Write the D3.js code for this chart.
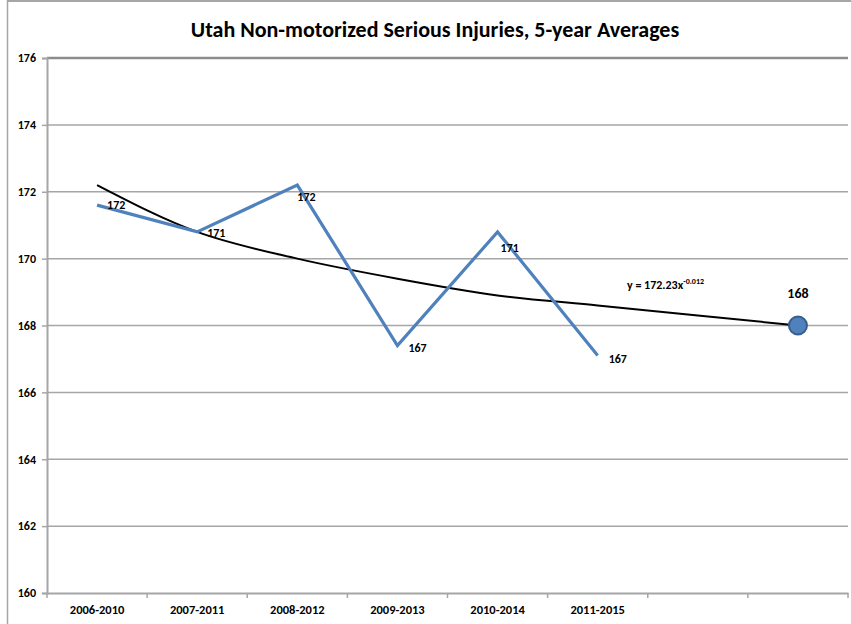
<!DOCTYPE html>
<html>
<head>
<meta charset="utf-8">
<script src="https://cdn.jsdelivr.net/npm/d3@7"></script>
<style>
  body { margin: 0; background: #fff; }
  svg { display: block; }
  text { font-family: Carlito, "Liberation Sans Narrow", "DejaVu Sans Condensed", Arial, sans-serif; font-weight: bold; fill: #000; }
</style>
</head>
<body>
<svg width="851" height="624"></svg>
<script>
// categories, including two empty forecast slots
const periods = ["2006-2010", "2007-2011", "2008-2012", "2009-2013", "2010-2014", "2011-2015", "", ""];
const averages = [171.6, 170.8, 172.2, 167.4, 170.8, 167.1];
const labels = ["172", "171", "172", "167", "171", "167"];
// power trend line values read at each category
const trend = [172.2, 170.8, 170.0, 169.4, 168.9, 168.6, 168.3, 168.0];
const forecast = 168.0;
const forecastIndex = 7;
const yTicks = [160, 162, 164, 166, 168, 170, 172, 174, 176];

let svg = d3.select("svg");

let margin = { left: 47, right: 3, top: 58, bottom: 31 };
let width = 851;
let height = 624;

let x = d3.scaleBand()
  .domain(d3.range(periods.length))
  .range([margin.left, width - margin.right])
  .padding(0);

let y = d3.scaleLinear()
  .domain([160, 176])
  .range([height - margin.bottom, margin.top]);

let cx = (i) => x(i) + x.bandwidth() / 2;

// outer chart border
svg.append("line")
  .attr("x1", 7.5).attr("x2", 7.5)
  .attr("y1", 0).attr("y2", height)
  .attr("stroke", "#a6a6a6").attr("stroke-width", 1.5);
svg.append("line")
  .attr("x1", 7.5).attr("x2", width)
  .attr("y1", 1).attr("y2", 1)
  .attr("stroke", "#a6a6a6").attr("stroke-width", 2);

// title
svg.append("text")
  .attr("x", 435)
  .attr("y", 37)
  .attr("text-anchor", "middle")
  .attr("font-size", "22px")
  .text("Utah Non-motorized Serious Injuries, 5-year Averages");

// gridlines
svg.append("g")
  .selectAll("line")
  .data(yTicks.slice(1))
  .join("line")
  .attr("x1", margin.left)
  .attr("x2", width - margin.right)
  .attr("y1", (d) => y(d))
  .attr("y2", (d) => y(d))
  .attr("stroke", (d) => (d === 176 ? "#8c8c8c" : "#a6a6a6"))
  .attr("stroke-width", (d) => (d === 176 ? 2.5 : 1.5));

// y axis
let yAxis = svg.append("g")
  .attr("transform", `translate(${margin.left},0)`)
  .call(d3.axisLeft(y).tickValues(yTicks).tickSize(5).tickPadding(6));
yAxis.select(".domain").attr("stroke", "#a6a6a6").attr("stroke-width", 2);
yAxis.selectAll(".tick line").attr("stroke", "#a6a6a6").attr("stroke-width", 1.5);
yAxis.selectAll(".tick text")
  .attr("font-size", "12px")
  .attr("font-family", null)
  .attr("fill", "#000");

// x axis
let xAxis = svg.append("g")
  .attr("transform", `translate(0,${y(160)})`)
  .call(d3.axisBottom(x).tickFormat((i) => periods[i]).tickSize(0).tickPadding(12));
xAxis.select(".domain").attr("stroke", "#a6a6a6").attr("stroke-width", 2);
xAxis.selectAll(".tick text")
  .attr("font-size", "12.5px")
  .attr("font-family", null)
  .attr("fill", "#000");

// category boundary ticks
svg.append("g")
  .selectAll("line")
  .data(d3.range(periods.length + 1))
  .join("line")
  .attr("x1", (i) => (i < periods.length ? x(i) : x.range()[1]))
  .attr("x2", (i) => (i < periods.length ? x(i) : x.range()[1]))
  .attr("y1", y(160))
  .attr("y2", y(160) + 5)
  .attr("stroke", "#a6a6a6")
  .attr("stroke-width", 1.5);

// trend line
svg.append("path")
  .datum(trend)
  .attr("fill", "none")
  .attr("stroke", "#000")
  .attr("stroke-width", 2)
  .attr("d", d3.line()
    .x((d, i) => cx(i))
    .y((d) => y(d))
    .curve(d3.curveMonotoneX));

// data line
svg.append("path")
  .datum(averages)
  .attr("fill", "none")
  .attr("stroke", "#4f81bd")
  .attr("stroke-width", 3.2)
  .attr("stroke-linejoin", "miter")
  .attr("d", d3.line()
    .x((d, i) => cx(i))
    .y((d) => y(d)));

// data labels, nudged like the original
let nudge = [[10, 4], [10, 5], [0, 16], [11, 6], [3, 20], [11, 7]];
svg.append("g")
  .selectAll("text")
  .data(averages)
  .join("text")
  .attr("x", (d, i) => cx(i) + nudge[i][0])
  .attr("y", (d, i) => y(d) + nudge[i][1])
  .attr("font-size", "12px")
  .text((d, i) => labels[i]);

// trend equation
let eq = svg.append("text")
  .attr("x", 627)
  .attr("y", 289)
  .attr("font-size", "12px");
eq.append("tspan").text("y = 172.23x");
eq.append("tspan")
  .attr("dy", -5)
  .attr("font-size", "8px")
  .text("-0.012");

// forecast point
svg.append("circle")
  .attr("cx", cx(forecastIndex))
  .attr("cy", y(forecast))
  .attr("r", 9)
  .attr("fill", "#4f81bd")
  .attr("stroke", "#385d8a")
  .attr("stroke-width", 2);

svg.append("text")
  .attr("x", cx(forecastIndex))
  .attr("y", y(forecast) - 28)
  .attr("text-anchor", "middle")
  .attr("font-size", "14px")
  .text(forecast.toFixed(0));
</script>
</body>
</html>
